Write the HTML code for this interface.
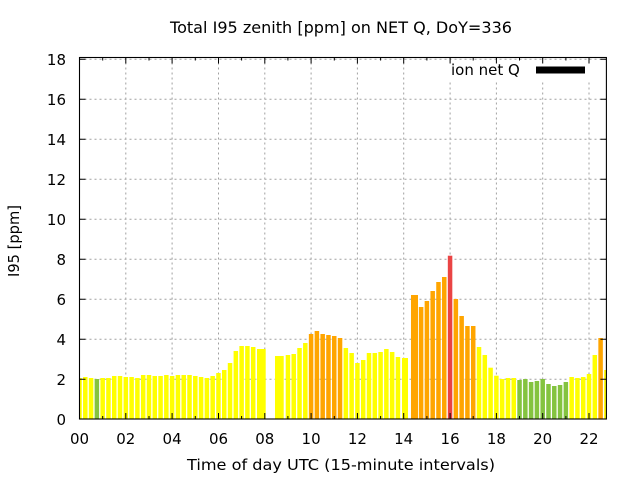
<!DOCTYPE html>
<html>
<head>
<meta charset="utf-8">
<style>
  html, body { margin: 0; padding: 0; background: #ffffff; }
  svg { display: block; }
  text { font-family: "DejaVu Sans", "Liberation Sans", sans-serif; fill: #000; }
</style>
</head>
<body>
<svg width="640" height="480" viewBox="0 0 640 480" xmlns="http://www.w3.org/2000/svg">
  <rect x="0" y="0" width="640" height="480" fill="#ffffff"/>
  <defs>
    <clipPath id="plot">
      <rect x="79.5" y="57.5" width="526.9" height="361.5"/>
    </clipPath>
  </defs>

  <text x="170" y="33" font-size="16" textLength="342" lengthAdjust="spacingAndGlyphs">Total I95 zenith [ppm] on NET Q, DoY=336</text>

  <g stroke="#a0a0a0" stroke-width="1" stroke-dasharray="2,3" fill="none">
    <line x1="79.5" y1="379.3" x2="606.4" y2="379.3"/>
    <line x1="79.5" y1="339.3" x2="606.4" y2="339.3"/>
    <line x1="79.5" y1="299.3" x2="606.4" y2="299.3"/>
    <line x1="79.5" y1="259.3" x2="606.4" y2="259.3"/>
    <line x1="79.5" y1="219.3" x2="606.4" y2="219.3"/>
    <line x1="79.5" y1="179.3" x2="606.4" y2="179.3"/>
    <line x1="79.5" y1="139.3" x2="606.4" y2="139.3"/>
    <line x1="79.5" y1="99.3" x2="606.4" y2="99.3"/>
    <line x1="79.5" y1="59.3" x2="606.4" y2="59.3"/>
    <line x1="125.8" y1="57.5" x2="125.8" y2="419"/>
    <line x1="172.1" y1="57.5" x2="172.1" y2="419"/>
    <line x1="218.5" y1="57.5" x2="218.5" y2="419"/>
    <line x1="264.8" y1="57.5" x2="264.8" y2="419"/>
    <line x1="311.1" y1="57.5" x2="311.1" y2="419"/>
    <line x1="357.4" y1="57.5" x2="357.4" y2="419"/>
    <line x1="403.7" y1="57.5" x2="403.7" y2="419"/>
    <line x1="450.1" y1="57.5" x2="450.1" y2="419"/>
    <line x1="496.4" y1="57.5" x2="496.4" y2="419"/>
    <line x1="542.7" y1="57.5" x2="542.7" y2="419"/>
    <line x1="589.0" y1="57.5" x2="589.0" y2="419"/>
  </g>

  <rect x="446" y="61" width="155" height="19" fill="#ffffff"/>

  <g clip-path="url(#plot)">
    <g fill="#ffff00">
      <rect x="77.25" y="378" width="4.5" height="41"/>
      <rect x="83.04" y="377" width="4.5" height="42"/>
      <rect x="88.83" y="378" width="4.5" height="41"/>
      <rect x="100.41" y="378" width="4.5" height="41"/>
      <rect x="106.2" y="378" width="4.5" height="41"/>
      <rect x="111.99" y="376" width="4.5" height="43"/>
      <rect x="117.78" y="376" width="4.5" height="43"/>
      <rect x="123.57" y="377" width="4.5" height="42"/>
      <rect x="129.36" y="377" width="4.5" height="42"/>
      <rect x="135.15" y="378" width="4.5" height="41"/>
      <rect x="140.94" y="375" width="4.5" height="44"/>
      <rect x="146.73" y="375" width="4.5" height="44"/>
      <rect x="152.52" y="376" width="4.5" height="43"/>
      <rect x="158.31" y="376" width="4.5" height="43"/>
      <rect x="164.1" y="375" width="4.5" height="44"/>
      <rect x="169.89" y="376" width="4.5" height="43"/>
      <rect x="175.68" y="375" width="4.5" height="44"/>
      <rect x="181.47" y="375" width="4.5" height="44"/>
      <rect x="187.26" y="375" width="4.5" height="44"/>
      <rect x="193.05" y="376" width="4.5" height="43"/>
      <rect x="198.84" y="377" width="4.5" height="42"/>
      <rect x="204.63" y="378" width="4.5" height="41"/>
      <rect x="210.42" y="376" width="4.5" height="43"/>
      <rect x="216.21" y="373" width="4.5" height="46"/>
      <rect x="222.0" y="370" width="4.5" height="49"/>
      <rect x="227.79" y="363" width="4.5" height="56"/>
      <rect x="233.58" y="351" width="4.5" height="68"/>
      <rect x="239.37" y="346" width="4.5" height="73"/>
      <rect x="245.16" y="346" width="4.5" height="73"/>
      <rect x="250.95" y="347" width="4.5" height="72"/>
      <rect x="257.0" y="349" width="8.7" height="70"/>
      <rect x="275.0" y="356" width="8.7" height="63"/>
      <rect x="285.69" y="355" width="4.5" height="64"/>
      <rect x="291.48" y="354" width="4.5" height="65"/>
      <rect x="297.27" y="348" width="4.5" height="71"/>
      <rect x="303.06" y="343" width="4.5" height="76"/>
      <rect x="343.59" y="348" width="4.5" height="71"/>
      <rect x="349.38" y="353" width="4.5" height="66"/>
      <rect x="355.17" y="363" width="4.5" height="56"/>
      <rect x="360.96" y="360" width="4.5" height="59"/>
      <rect x="366.75" y="353" width="4.5" height="66"/>
      <rect x="372.54" y="353" width="4.5" height="66"/>
      <rect x="378.33" y="352" width="4.5" height="67"/>
      <rect x="384.12" y="349" width="4.5" height="70"/>
      <rect x="389.91" y="352" width="4.5" height="67"/>
      <rect x="395.7" y="357" width="4.5" height="62"/>
      <rect x="402.0" y="358" width="6.0" height="61"/>
      <rect x="476.76" y="347" width="4.5" height="72"/>
      <rect x="482.55" y="355" width="4.5" height="64"/>
      <rect x="488.34" y="367.7" width="4.5" height="51.3"/>
      <rect x="494.13" y="375.7" width="4.5" height="43.3"/>
      <rect x="499.92" y="379" width="4.5" height="40"/>
      <rect x="505.71" y="378" width="4.5" height="41"/>
      <rect x="511.5" y="378" width="4.5" height="41"/>
      <rect x="569.4" y="377" width="4.5" height="42"/>
      <rect x="575.19" y="378" width="4.5" height="41"/>
      <rect x="580.98" y="377" width="4.5" height="42"/>
      <rect x="586.77" y="374" width="4.5" height="45"/>
      <rect x="592.56" y="355" width="4.5" height="64"/>
      <rect x="604.14" y="370" width="4.5" height="49"/>
    </g>
    <g fill="#ffa500">
      <rect x="308.85" y="334" width="4.5" height="85"/>
      <rect x="314.64" y="331" width="4.5" height="88"/>
      <rect x="320.43" y="334" width="4.5" height="85"/>
      <rect x="326.22" y="335" width="4.5" height="84"/>
      <rect x="332.01" y="336" width="4.5" height="83"/>
      <rect x="337.8" y="338" width="4.5" height="81"/>
      <rect x="411.0" y="295" width="7.0" height="124"/>
      <rect x="418.86" y="307" width="4.5" height="112"/>
      <rect x="424.65" y="301" width="4.5" height="118"/>
      <rect x="430.44" y="291" width="4.5" height="128"/>
      <rect x="436.23" y="282" width="4.5" height="137"/>
      <rect x="442.02" y="277" width="4.5" height="142"/>
      <rect x="453.6" y="299" width="4.5" height="120"/>
      <rect x="459.39" y="316" width="4.5" height="103"/>
      <rect x="465.18" y="326" width="4.5" height="93"/>
      <rect x="470.97" y="326" width="4.5" height="93"/>
      <rect x="598.35" y="338" width="4.5" height="81"/>
    </g>
    <g fill="#ea4444">
      <rect x="447.81" y="255.7" width="4.5" height="163.3"/>
    </g>
    <g fill="#84c340">
      <rect x="94.62" y="379" width="4.5" height="40"/>
      <rect x="517.29" y="380" width="4.5" height="39"/>
      <rect x="523.08" y="379" width="4.5" height="40"/>
      <rect x="528.87" y="382" width="4.5" height="37"/>
      <rect x="534.66" y="381" width="4.5" height="38"/>
      <rect x="540.45" y="379" width="4.5" height="40"/>
      <rect x="546.24" y="384" width="4.5" height="35"/>
      <rect x="552.03" y="386" width="4.5" height="33"/>
      <rect x="557.82" y="385" width="4.5" height="34"/>
      <rect x="563.61" y="382" width="4.5" height="37"/>
    </g>
  </g>

  <g stroke="#000" stroke-width="1" fill="none">
    <path d="M79.5 379.3h6 M79.5 339.3h6 M79.5 299.3h6 M79.5 259.3h6 M79.5 219.3h6 M79.5 179.3h6 M79.5 139.3h6 M79.5 99.3h6 M79.5 59.3h6"/>
    <path d="M606.4 379.3h-6 M606.4 339.3h-6 M606.4 299.3h-6 M606.4 259.3h-6 M606.4 219.3h-6 M606.4 179.3h-6 M606.4 139.3h-6 M606.4 99.3h-6 M606.4 59.3h-6"/>
    <path d="M125.8 419v-6 M172.1 419v-6 M218.5 419v-6 M264.8 419v-6 M311.1 419v-6 M357.4 419v-6 M403.7 419v-6 M450.1 419v-6 M496.4 419v-6 M542.7 419v-6 M589.0 419v-6"/>
    <path d="M125.8 57.5v6 M172.1 57.5v6 M218.5 57.5v6 M264.8 57.5v6 M311.1 57.5v6 M357.4 57.5v6 M403.7 57.5v6 M450.1 57.5v6 M496.4 57.5v6 M542.7 57.5v6 M589.0 57.5v6"/>
    <path d="M102.7 419v-3 M149.0 419v-3 M195.3 419v-3 M241.6 419v-3 M287.9 419v-3 M334.3 419v-3 M380.6 419v-3 M426.9 419v-3 M473.2 419v-3 M519.5 419v-3 M565.9 419v-3"/>
    <path d="M102.7 57.5v3 M149.0 57.5v3 M195.3 57.5v3 M241.6 57.5v3 M287.9 57.5v3 M334.3 57.5v3 M380.6 57.5v3 M426.9 57.5v3 M473.2 57.5v3 M519.5 57.5v3 M565.9 57.5v3"/>
  </g>

  <rect x="79.5" y="57.5" width="526.9" height="361.5" fill="none" stroke="#000" stroke-width="1.1"/>

  <text x="451" y="75" font-size="15">ion net Q</text>
  <rect x="536" y="66.5" width="49" height="7" fill="#000"/>

  <g font-size="15" text-anchor="end">
    <text x="66" y="424.8">0</text>
    <text x="66" y="384.8">2</text>
    <text x="66" y="344.8">4</text>
    <text x="66" y="304.8">6</text>
    <text x="66" y="264.8">8</text>
    <text x="66" y="224.8">10</text>
    <text x="66" y="184.8">12</text>
    <text x="66" y="144.8">14</text>
    <text x="66" y="104.8">16</text>
    <text x="66" y="64.8">18</text>
  </g>

  <g font-size="15" text-anchor="middle">
    <text x="79.5" y="444">00</text>
    <text x="125.8" y="444">02</text>
    <text x="172.1" y="444">04</text>
    <text x="218.5" y="444">06</text>
    <text x="264.8" y="444">08</text>
    <text x="311.1" y="444">10</text>
    <text x="357.4" y="444">12</text>
    <text x="403.7" y="444">14</text>
    <text x="450.1" y="444">16</text>
    <text x="496.4" y="444">18</text>
    <text x="542.7" y="444">20</text>
    <text x="589.0" y="444">22</text>
  </g>

  <text x="187" y="470" font-size="15" textLength="308" lengthAdjust="spacingAndGlyphs">Time of day UTC (15-minute intervals)</text>
  <text transform="translate(19,277) rotate(-90)" x="0" y="0" font-size="15" textLength="72" lengthAdjust="spacingAndGlyphs">I95 [ppm]</text>
</svg>
</body>
</html>
